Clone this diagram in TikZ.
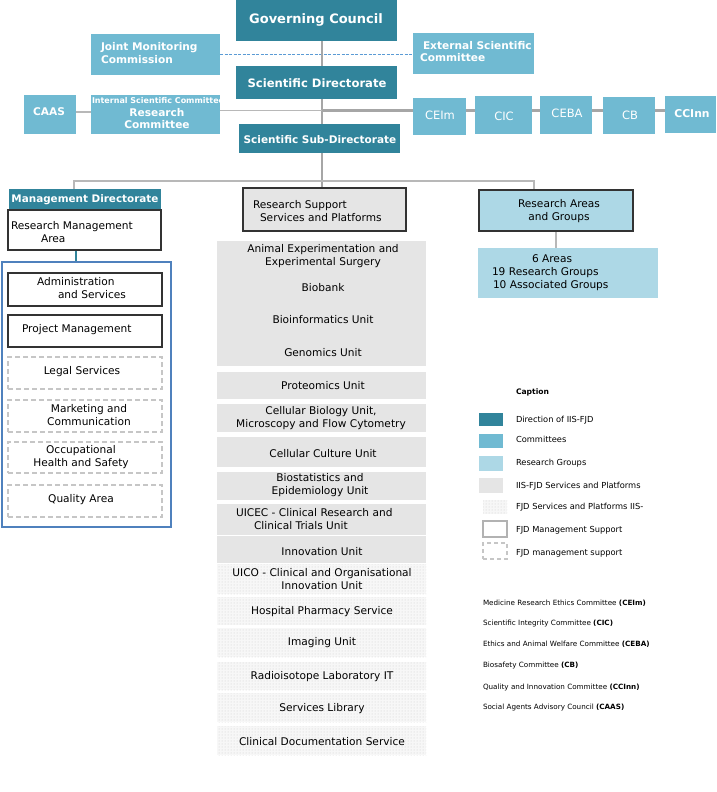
\documentclass[tikz,border=0pt]{standalone}
\usepackage{fontspec}
\setmainfont{DejaVu Sans}
\usetikzlibrary{fit,patterns,backgrounds}
\definecolor{teal1}{HTML}{31849B}
\definecolor{comm}{HTML}{70BAD2}
\definecolor{rgrp}{HTML}{ADD8E6}
\definecolor{svc}{HTML}{E5E5E5}
\definecolor{ln}{HTML}{A6A6A6}
\definecolor{dashblue}{HTML}{5B9BD5}
\definecolor{mgmtblue}{HTML}{4F81BD}
\definecolor{bord}{HTML}{333333}
\begin{document}
\begin{tikzpicture}[x=1pt,y=-1pt,
  box/.style={inner sep=0pt, outer sep=0pt},
  dirbox/.style={box, fill=teal1},
  combox/.style={box, fill=comm},
  grpbox/.style={box, fill=rgrp},
  svcbox/.style={box, fill=svc},
  fjdbox/.style={box, preaction={fill=gray!6}, pattern=dots, pattern color=gray!40},
  solidbox/.style={box, draw=bord, line width=1.3pt},
  dashbox/.style={box, draw=gray!45, line width=1.4pt, dash pattern=on 5pt off 3pt},
  txt/.style={inner sep=0pt, outer sep=0pt, align=center, font=\fontsize{10.6}{13}\selectfont},
  wb/.style={inner sep=0pt, outer sep=0pt, align=center, text=white, font=\bfseries\fontsize{10.6}{12.5}\selectfont},
  wr/.style={inner sep=0pt, outer sep=0pt, text=white, font=\fontsize{11.5}{13}\selectfont},
  legt/.style={inner sep=0pt, outer sep=0pt, anchor=west, font=\fontsize{8.3}{9}\selectfont},
  listt/.style={inner sep=0pt, outer sep=0pt, anchor=west, font=\fontsize{7.2}{9}\selectfont},
  spine/.style={draw=ln, line width=1.6pt},
  thinln/.style={draw=ln!80, line width=1.2pt},
  thickln/.style={draw=ln, line width=3pt}
]
\useasboundingbox (0,0) rectangle (716,792);

% ---------- top: direction and committees ----------
\node[dirbox, fit={(236,0) (397,41)}] (GC) {};
\node[wb, font=\bfseries\fontsize{13}{15}\selectfont] (GCt) at (316,20) {Governing Council};
\node[combox, fit={(91,34) (220,75)}] (JMC) {};
\node[wb, anchor=west, align=left] (JMCt) at (101,53) {Joint Monitoring\\Commission};
\node[combox, fit={(413,33) (534,74)}] (ESC) {};
\node[wb, anchor=west, align=left] (ESCt) at (420,51.5) {\hspace{3pt}External Scientific\\Committee};
\node[dirbox, fit={(236,66) (397,99)}] (SD) {};
\node[wb, font=\bfseries\fontsize{11.6}{13}\selectfont] (SDt) at (317,83) {Scientific Directorate};
\node[combox, fit={(91,95) (220,134)}] (ISC) {};
\begin{scope}
\clip (91,95) rectangle (220,134);
\node[wb, anchor=west, font=\bfseries\fontsize{8}{9}\selectfont] (ISCs) at (92,100.5) {Internal Scientific Committee};
\end{scope}
\node[wb] (ISCt) at (157,118.5) {Research\\Committee};
\node[combox, fit={(24,95) (76,134)}] (CAAS) {};
\node[wb] (CAASt) at (49,112) {CAAS};
\node[dirbox, fit={(239,124) (400,153)}] (SSD) {};
\node[wb, font=\bfseries\fontsize{10.5}{12}\selectfont] (SSDt) at (320,140) {Scientific Sub-Directorate};

\node[combox, fit={(413,98) (466,135)}] (CEIm) {};
\node[wr] (CEImt) at (440,115) {CEIm};
\node[combox, fit={(475,96) (532,134)}] (CIC) {};
\node[wr] (CICt) at (504,116) {CIC};
\node[combox, fit={(540,96) (592,134)}] (CEBA) {};
\node[wr] (CEBAt) at (567,113) {CEBA};
\node[combox, fit={(603,97) (655,134)}] (CB) {};
\node[wr] (CBt) at (630,115) {CB};
\node[combox, fit={(665,96) (716,133)}] (CCInn) {};
\node[wb, font=\bfseries\fontsize{10.8}{12}\selectfont] (CCInnt) at (692,114) {CCInn};

% ---------- second level ----------
\node[dirbox, fit={(9,189) (161,210)}] (MD) {};
\node[wb, font=\bfseries\fontsize{10.4}{12}\selectfont] (MDt) at (85,200) {Management Directorate};
\node[solidbox, fill=white, fit={(8,210) (161,250)}] (RMA) {};
\node[txt, anchor=west, align=left] (RMAt) at (11,232) {Research Management\\\hspace{30pt}Area};

\node[solidbox, fill=svc, fit={(243,188) (406,231)}] (RS) {};
\node[txt, anchor=west, align=left] (RSt) at (253,211) {Research Support\\\hspace{7pt}Services and Platforms};

\node[solidbox, fill=rgrp, fit={(479,190) (633,231)}] (RA) {};
\node[txt] (RAt) at (559,211) {Research Areas\\and Groups};
\node[grpbox, fit={(478,248) (658,298)}] (GR) {};
\node[txt, anchor=west, align=left] (GRt) at (492,273) {\hspace{40pt}6 Areas\\19 Research Groups\\\hspace{1pt}10 Associated Groups};

% ---------- management column ----------
\node[box, draw=mgmtblue, line width=1.2pt, fit={(2,262) (171,527)}] (MG) {};
\node[solidbox, fit={(8,273) (162,306)}] (AS) {};
\node[txt, anchor=west, align=left] (ASt) at (37,288.5) {Administration\\\hspace{21pt}and Services};
\node[solidbox, fit={(8,315) (162,347)}] (PM) {};
\node[txt, anchor=west] (PMt) at (22,330) {Project Management};
\node[dashbox, fit={(8,357) (162,389)}] (LS) {};
\node[txt] (LSt) at (82,372) {Legal Services};
\node[dashbox, fit={(8,400) (162,432)}] (MC) {};
\node[txt] (MCt) at (89,415) {Marketing and\\Communication};
\node[dashbox, fit={(8,442) (162,473)}] (OH) {};
\node[txt] (OHt) at (81,457) {Occupational\\Health and Safety};
\node[dashbox, fit={(8,485) (162,517)}] (QA) {};
\node[txt] (QAt) at (81,500) {Quality Area};

% ---------- services column ----------
\node[svcbox, fit={(217,241) (426,366)}] (S1) {};
\node[txt] (S1a) at (323,256.5) {Animal Experimentation and\\Experimental Surgery};
\node[txt] (S1b) at (323,288) {Biobank};
\node[txt] (S1c) at (323,320) {Bioinformatics Unit};
\node[txt] (S1d) at (323,353) {Genomics Unit};
\node[svcbox, fit={(217,372) (426,399)}] (S2) {};
\node[txt] (S2t) at (323,386) {Proteomics Unit};
\node[svcbox, fit={(217,404) (426,432)}] (S3) {};
\node[txt] (S3t) at (321,418) {Cellular Biology Unit,\hspace{12pt}\\Microscopy and Flow Cytometry};
\node[svcbox, fit={(217,437) (426,467)}] (S4) {};
\node[txt] (S4t) at (323,454) {Cellular Culture Unit};
\node[svcbox, fit={(217,472) (426,500)}] (S5) {};
\node[txt] (S5t) at (320,485.5) {Biostatistics and\\Epidemiology Unit};
\node[svcbox, fit={(217,504) (426,535)}] (S6) {};
\node[txt, anchor=west, align=left] (S6t) at (236,519) {UICEC - Clinical Research and\\\hspace{18pt}Clinical Trials Unit};
\node[svcbox, fit={(217,535.8) (426,563)}] (S7) {};
\node[txt] (S7t) at (322,552) {Innovation Unit};
\node[fjdbox, fit={(217,564) (426,594)}] (F1) {};
\node[txt] (F1t) at (322,579) {UICO - Clinical and Organisational\\Innovation Unit};
\node[fjdbox, fit={(217,597) (426,625)}] (F2) {};
\node[txt] (F2t) at (322,612) {Hospital Pharmacy Service};
\node[fjdbox, fit={(217,628) (426,657)}] (F3) {};
\node[txt] (F3t) at (322,643) {Imaging Unit};
\node[fjdbox, fit={(217,662) (426,690)}] (F4) {};
\node[txt] (F4t) at (322,677) {Radioisotope Laboratory IT};
\node[fjdbox, fit={(217,693) (426,722)}] (F5) {};
\node[txt] (F5t) at (322,709) {Services Library};
\node[fjdbox, fit={(217,726) (426,755)}] (F6) {};
\node[txt] (F6t) at (322,742) {Clinical Documentation Service};

% ---------- legend ----------
\node[legt, font=\bfseries\fontsize{7.6}{9}\selectfont] (cap) at (516,392) {Caption};
\node[dirbox, fit={(479,413) (503,426)}] (L1) {};
\node[legt] (L1t) at (516,420) {Direction of IIS-FJD};
\node[combox, fit={(479,434) (503,448)}] (L2) {};
\node[legt] (L2t) at (516,439.5) {Committees};
\node[grpbox, fit={(479,456) (503,471)}] (L3) {};
\node[legt] (L3t) at (516,463) {Research Groups};
\node[svcbox, fit={(479,478) (503,493)}] (L4) {};
\node[legt] (L4t) at (516,486) {IIS-FJD Services and Platforms};
\node[fjdbox, fit={(483,500) (507,514)}] (L5) {};
\node[legt] (L5t) at (516,507) {FJD Services and Platforms IIS-};
\node[box, draw=gray!60, line width=2pt, fit={(483,521) (507,537)}] (L6) {};
\node[legt] (L6t) at (516,530) {FJD Management Support};
\node[dashbox, line width=1.2pt, dash pattern=on 4pt off 3pt, fit={(483,543) (507,559)}] (L7) {};
\node[legt] (L7t) at (516,553) {FJD management support};

\node[listt] (C1) at (483,603) {Medicine Research Ethics Committee \textbf{(CEIm)}};
\node[listt] (C2) at (483,624) {Scientific Integrity Committee \textbf{(CIC)}};
\node[listt] (C3) at (483,644) {Ethics and Animal Welfare Committee \textbf{(CEBA)}};
\node[listt] (C4) at (483,666) {Biosafety Committee \textbf{(CB)}};
\node[listt] (C5) at (483,688) {Quality and Innovation Committee \textbf{(CCInn)}};
\node[listt] (C6) at (483,708) {Social Agents Advisory Council \textbf{(CAAS)}};

% ---------- connectors ----------
\coordinate (sp) at (322,0);
\coordinate (h1) at (322,110.5);
\coordinate (c1) at (0,112);
\coordinate (d1) at (0,54);
\coordinate (busL) at (74,181);
\coordinate (busR) at (534,181);
\coordinate (mx) at (76,0);
\begin{scope}[on background layer]
\draw[dashblue, line width=0.9pt, dash pattern=on 3pt off 1.5pt] (JMC.east |- d1) -- (ESC.west |- d1);
\draw[spine] (GC.south -| sp) -- (RS.north -| sp);
\draw[thinln] (ISC.east |- h1) -- (h1);
\draw[thinln] (CAAS.east |- c1) -- (ISC.west |- c1);
\draw[thickln] (h1) -- (CCInn.west |- h1);
\draw[thinln] (MD.north -| busL) -- (busL) -- (busR) -- (RA.north -| busR);
\draw[teal1, line width=1.2pt] (RMA.south -| mx) -- (MG.north -| mx);
\draw[thinln] (RA.south) -- (RA.south |- GR.north);
\end{scope}
\end{tikzpicture}
\end{document}
